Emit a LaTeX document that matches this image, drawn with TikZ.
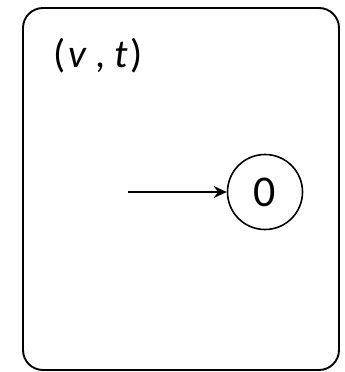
\documentclass[tikz,border=0pt]{standalone}
\usepackage{fontspec}
\setmainfont{Carlito}
\usetikzlibrary{arrows.meta}
\begin{document}
\begin{tikzpicture}[x=1pt,y=-1pt,
  frame/.style={draw,line width=1.9pt,rounded corners=20pt},
  state/.style={draw,circle,line width=1.6pt,minimum size=75pt,inner sep=0pt,font=\fontsize{44}{48}\selectfont},
  lbl/.style={font=\fontsize{40}{44}\selectfont,inner sep=0pt},
  arr/.style={line width=1.6pt,-{Stealth[length=13pt,width=12pt]}}]
\useasboundingbox (0,0) rectangle (345,372);
\node[frame,minimum width=316pt,minimum height=362pt,inner sep=0pt] (box) at (181,189) {};
\node[lbl] (name) at (98,56) {(\kern3pt\textit{v}\kern8pt,\kern9pt\textit{t}\kern3pt)};
\node[state] (s0) at (265,192) {0};
\coordinate (start) at (128,192);
\draw[arr] (start) -- (s0);
\end{tikzpicture}
\end{document}
